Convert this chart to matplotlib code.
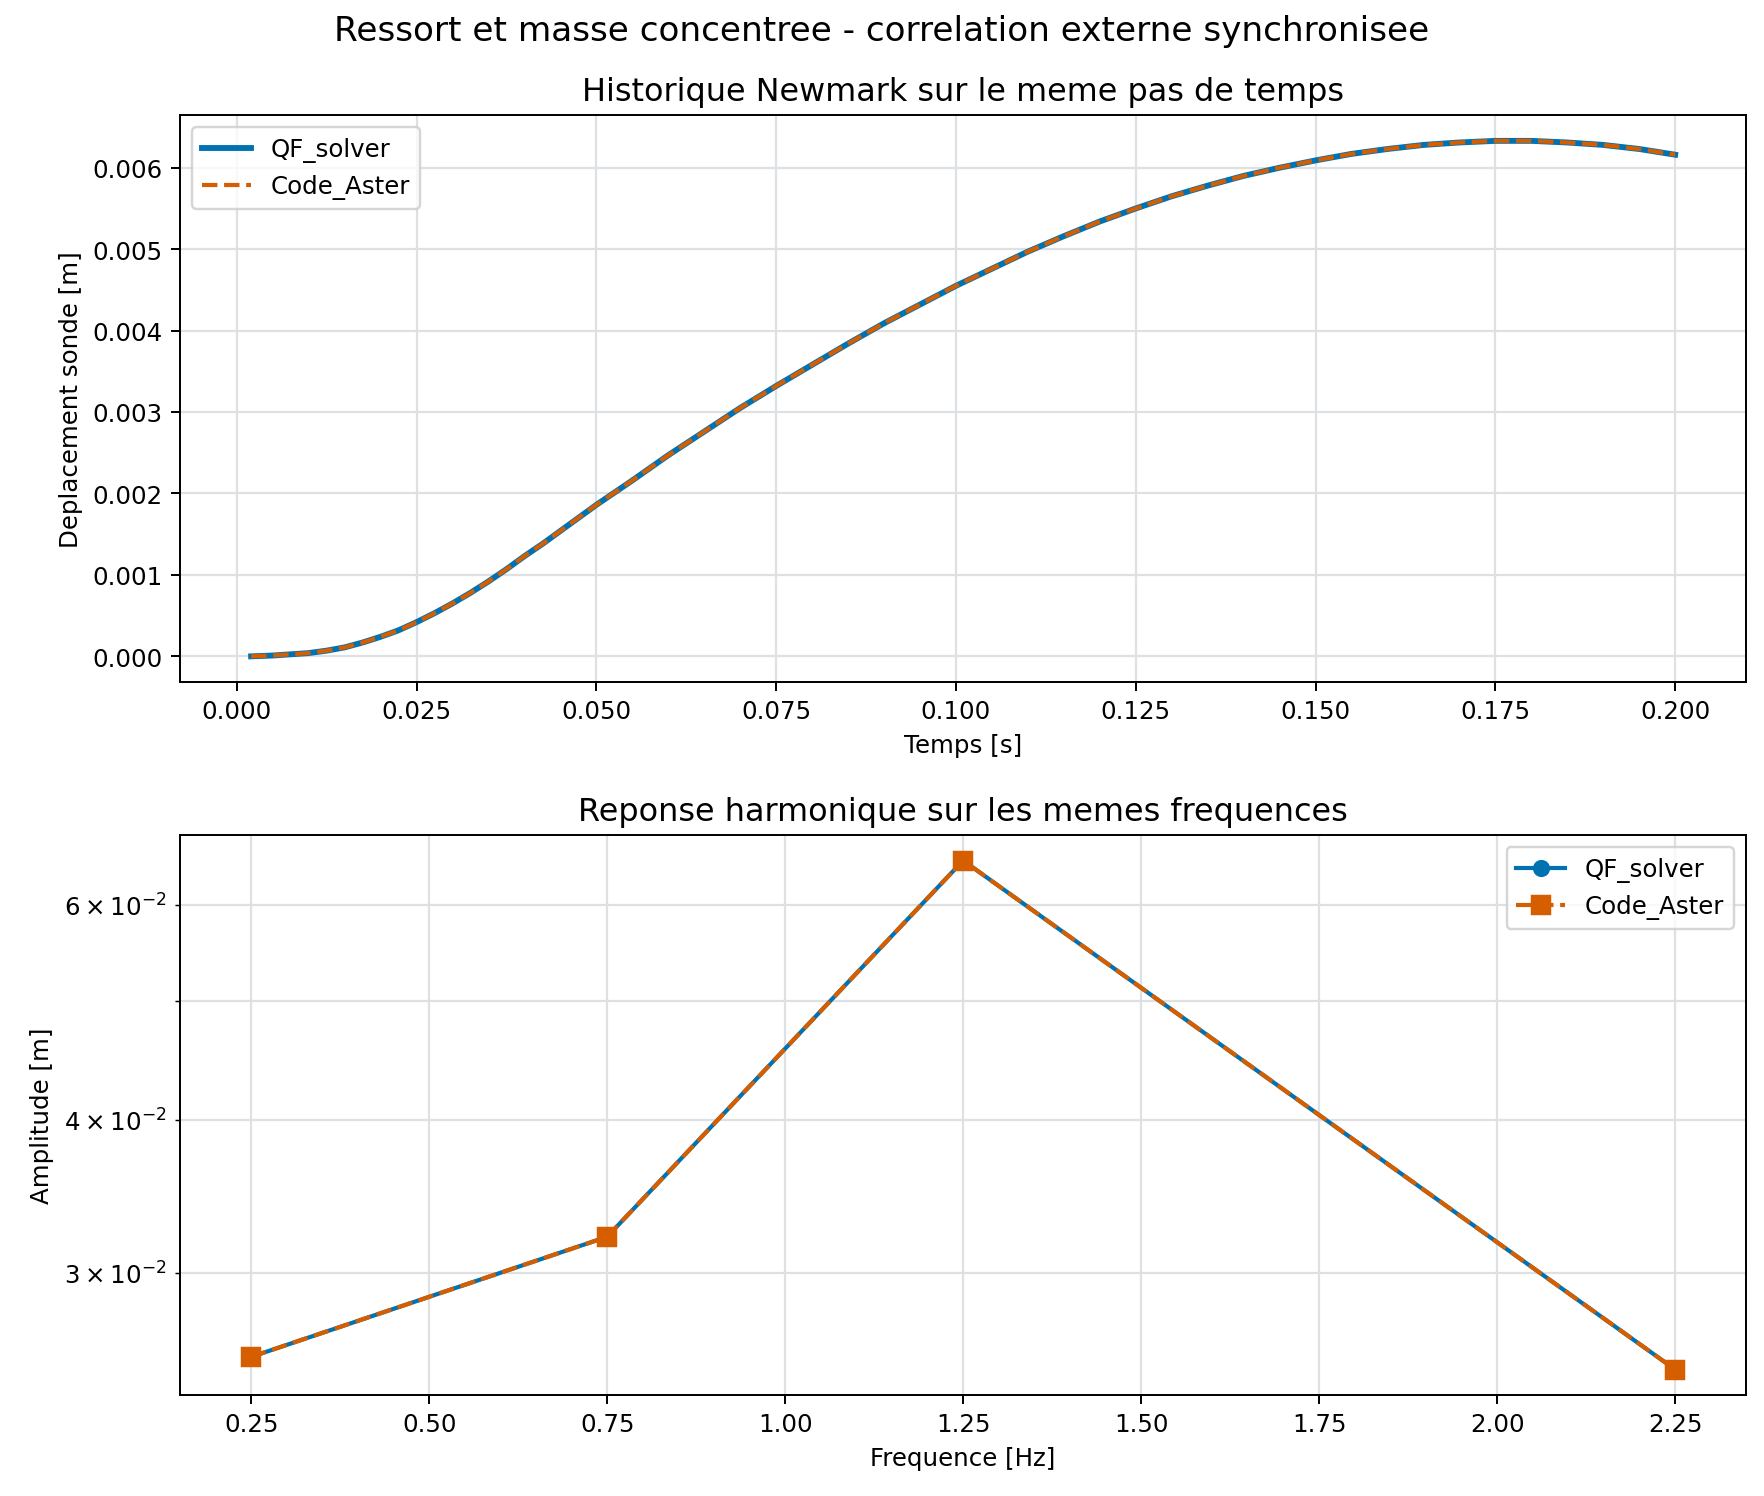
import numpy as np
import matplotlib
matplotlib.use("Agg")
import matplotlib.pyplot as plt

# ==========================
# Data
# ==========================

temps = [0.002, 0.005, 0.010, 0.0125, 0.015, 0.0175, 0.020, 0.0225, 0.025,
         0.0275, 0.030, 0.0325, 0.035, 0.0375, 0.040, 0.0425, 0.045, 0.050,
         0.055, 0.060, 0.065, 0.070, 0.075, 0.080, 0.085, 0.090, 0.095,
         0.100, 0.105, 0.110, 0.115, 0.120, 0.125, 0.130, 0.135, 0.140,
         0.145, 0.150, 0.155, 0.160, 0.165, 0.170, 0.175, 0.180, 0.185,
         0.190, 0.195, 0.200]

depl_qf = [0.0, 0.00001, 0.00004, 0.00007, 0.00011, 0.00017, 0.00024,
           0.00032, 0.00042, 0.00053, 0.00065, 0.00078, 0.00092, 0.00107,
           0.00123, 0.00138, 0.00154, 0.00186, 0.00216, 0.00247, 0.00276,
           0.00305, 0.00332, 0.00358, 0.00384, 0.00409, 0.00432, 0.00455,
           0.00476, 0.00497, 0.00516, 0.00534, 0.00550, 0.00565, 0.00578,
           0.00590, 0.00600, 0.00609, 0.00617, 0.00623, 0.00628, 0.00631,
           0.00633, 0.00633, 0.00631, 0.00628, 0.00623, 0.00616]

depl_aster = list(depl_qf)

frequences = [0.25, 0.75, 1.25, 2.25]
ampl_qf = [0.0256, 0.0321, 0.0652, 0.0250]
ampl_aster = [0.0256, 0.0321, 0.0652, 0.0250]

BLUE = "#0072B2"
ORANGE = "#D55E00"
GRID = "#dde1e4"

# ==========================
# Figure
# ==========================

fig = plt.figure(figsize=(10, 8.486), dpi=176.4)
ax1 = fig.add_axes([0.102, 0.5437, 0.888, 0.3788])
ax2 = fig.add_axes([0.102, 0.0675, 0.888, 0.3740])

fig.suptitle("Ressort et masse concentree - correlation externe synchronisee",
             fontsize=14, y=0.979, va="center")

# Historique temporel
ax1.plot(temps, depl_qf, color=BLUE, lw=2.4, label="QF_solver")
ax1.plot(temps, depl_aster, color=ORANGE, lw=1.7, ls="--", label="Code_Aster")
ax1.set_title("Historique Newmark sur le meme pas de temps", fontsize=13)
ax1.set_xlabel("Temps [s]")
ax1.set_ylabel("Deplacement sonde [m]")
ax1.grid(True, color=GRID, lw=0.9)
ax1.set_axisbelow(True)
ax1.legend(loc="upper left")

# Reponse harmonique
ax2.plot(frequences, ampl_qf, color=BLUE, lw=1.7, marker="o", ms=6, label="QF_solver")
ax2.plot(frequences, ampl_aster, color=ORANGE, lw=1.7, ls="--", marker="s", ms=7,
         label="Code_Aster")
ax2.set_yscale("log")
ax2.set_title("Reponse harmonique sur les memes frequences", fontsize=13)
ax2.set_xlabel("Frequence [Hz]")
ax2.set_ylabel("Amplitude [m]")
ax2.grid(True, which="both", color=GRID, lw=0.9)
ax2.set_axisbelow(True)
ax2.legend(loc="upper right")

fig.savefig("out.png", dpi=176.4)
